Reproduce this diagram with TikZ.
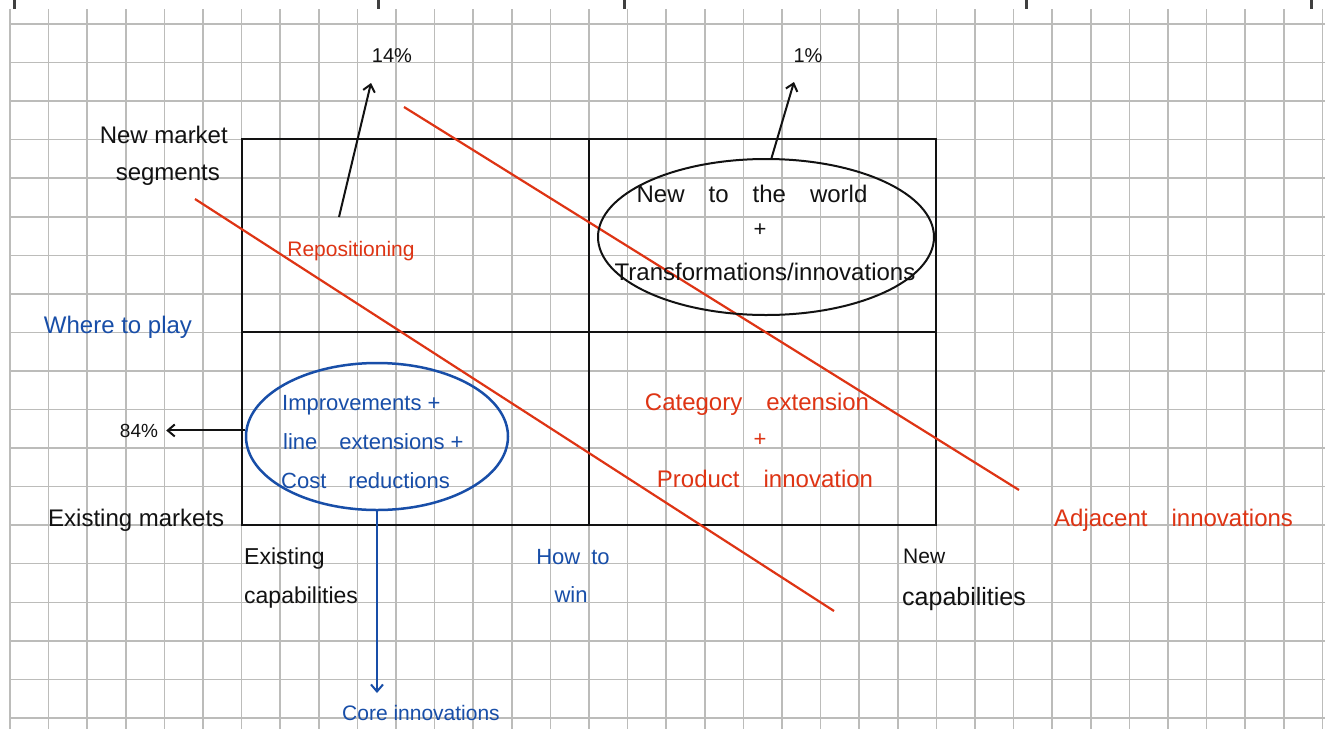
\documentclass[tikz,border=0pt]{standalone}
\usepackage{fontspec}
\setmainfont{Liberation Sans}
\usetikzlibrary{arrows.meta,shapes.geometric}
\definecolor{gridc}{RGB}{188,188,186}
\definecolor{redink}{RGB}{222,52,20}
\definecolor{blueink}{RGB}{24,78,168}
\definecolor{inkk}{RGB}{18,18,18}
\begin{document}
\begin{tikzpicture}[x=1pt,y=-1pt,
  hw/.style={inner sep=0pt, font=\fontsize{#1}{#1}\selectfont},
  gridline/.style={gridc, line width=1.5pt},
  quadline/.style={inkk, line width=2.6pt},
  redline/.style={redink, line width=2.2pt},
  arr/.style={-{Straight Barb[length=7pt,width=12pt]}, line width=2pt, inkk},
  barr/.style={-{Straight Barb[length=7pt,width=12pt]}, line width=2pt, blueink},
  redtxt/.style={text=redink},
  bluetxt/.style={text=blueink},
  blacktxt/.style={text=inkk}]
\useasboundingbox (0,0) rectangle (1325,729);
\fill[white] (0,0) rectangle (1325,729);
% paper grid
\foreach \k in {0,...,34} \draw[gridline] ({10+38.6*\k},9) -- ({10+38.6*\k},729);
\foreach \j in {0,...,18} \draw[gridline] (10,{24+38.55*\j}) -- (1325,{24+38.55*\j});
% marks of the cropped table above
\foreach \x in {14,378,624,1026,1311} \draw[line width=3pt, black!75] (\x,0) -- (\x,9);
% quadrant box
\draw[quadline] (242,139) rectangle (936,525);
\draw[quadline] (589,139) -- (589,525);
\draw[quadline] (242,332) -- (936,332);
% red diagonals
\draw[redline] (404,107) -- (1019,490);
\draw[redline] (195,199) -- (834,611);
% axis labels
\node[hw=24, blacktxt, anchor=base east] (nms1) at (228,143) {New market};
\node[hw=24, blacktxt, anchor=base east] (nms2) at (220,180) {segments};
\node[hw=24, bluetxt, anchor=base] (wtp) at (118,333) {Where to play};
\node[hw=24, blacktxt, anchor=base west] (exm) at (48,526) {Existing markets};
\node[hw=23, blacktxt, anchor=base west] (exc1) at (244,564) {Existing};
\node[hw=23, blacktxt, anchor=base west] (exc2) at (244,603) {capabilities};
\node[hw=22, bluetxt, anchor=base] (htw1) at (573,564) {How\enspace to};
\node[hw=22, bluetxt, anchor=base] (htw2) at (571,602) {win};
\node[hw=21, blacktxt, anchor=base west] (nc1) at (903,563) {New};
\node[hw=25, blacktxt, anchor=base west] (nc2) at (902,605) {capabilities};
% top-left quadrant
\node[hw=21, redtxt, anchor=base] (repo) at (351,256) {Repositioning};
\node[hw=20, blacktxt, anchor=base] (p14) at (392,62) {14\%};
\coordinate (repoTop) at (339,217);
\coordinate (p14tip) at (371,83);
\draw[arr] (repoTop) -- (p14tip);
% top-right quadrant
\node[draw=inkk, line width=2pt, ellipse, minimum width=336pt, minimum height=156pt, inner sep=0pt] (bell) at (766,237) {};
\node[hw=24, blacktxt, anchor=base] (ntw) at (752,202) {New\quad to\quad the\quad world};
\node[hw=22, blacktxt] (plus1) at (760,230) {+};
\node[hw=24, blacktxt, anchor=base] (trf) at (765,280) {Transformations/innovations};
\node[hw=20, blacktxt, anchor=base] (p1) at (808,62) {1\%};
\coordinate (p1tip) at (794,82);
\draw[arr] (bell.86) -- (p1tip);
% bottom-left quadrant
\node[draw=blueink, line width=2.5pt, ellipse, minimum width=262pt, minimum height=147pt, inner sep=0pt] (bell2) at (377,436.5) {};
\node[hw=22, bluetxt, anchor=base west] (imp) at (282,410) {Improvements +};
\node[hw=22, bluetxt, anchor=base west] (lext) at (283,449) {line\quad extensions +};
\node[hw=22, bluetxt, anchor=base west] (cost) at (281,488) {Cost\quad reductions};
\node[hw=19, blacktxt, anchor=base] (p84) at (139,437) {84\%};
\draw[arr] (bell2.west |- p84.east) -- ([xshift=8pt]p84.east);
\node[hw=21, bluetxt, anchor=base west] (core) at (342,720) {Core innovations};
\draw[barr] (bell2.south) -- (bell2.south |- 0,693);
% bottom-right quadrant
\node[hw=24, redtxt, anchor=base] (cat) at (757,410) {Category\quad extension};
\node[hw=22, redtxt] (plus2) at (760,440) {+};
\node[hw=24, redtxt, anchor=base] (prod) at (765,487) {Product\quad innovation};
\node[hw=24, redtxt, anchor=base west] (adj) at (1054,526) {Adjacent\quad innovations};
\end{tikzpicture}
\end{document}
